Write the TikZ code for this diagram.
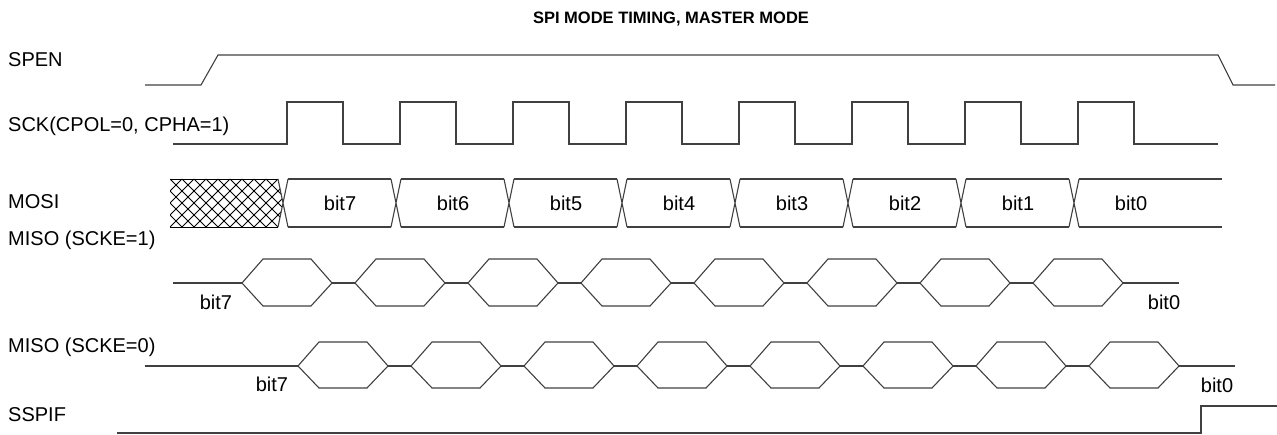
\documentclass[tikz,border=0pt]{standalone}
\usepackage{fontspec}
\setmainfont{Liberation Sans}

\begin{document}
\begin{tikzpicture}[
      x=1pt, y=-1pt,
      font=\fontsize{20}{23}\selectfont,
      wave/.style={draw=black!75, line width=1.1pt, line join=miter},
      hatch/.style={draw=black, line width=0.9pt},
      lbl/.style={anchor=west, inner sep=0pt},
      bitlbl/.style={inner sep=0pt}
    ]
    \useasboundingbox (0,0) rectangle (1277,435);

    \node[font=\fontsize{16.5}{20}\selectfont\bfseries] (title) at (671,19)
      {SPI MODE TIMING, MASTER MODE};

    \node[lbl] (spen)  at (8,60)  {SPEN};
    \node[lbl] (sck)   at (8,126) {SCK(CPOL=0, CPHA=1)};
    \node[lbl] (mosi)  at (8,202) {MOSI};
    \node[lbl] (misoa) at (8,240) {MISO (SCKE=1)};
    \node[lbl] (misob) at (8,347) {MISO (SCKE=0)};
    \node[lbl] (sspif) at (8,415) {SSPIF};

    % SPEN
    \draw[wave] (145,85) -- (201,85) -- (218,55) -- (1218,55) -- (1233,85)
      -- (1275,85);

    % SCK, eight clock pulses
    \draw[wave] (173,144)
      \foreach \k in {0,...,7} {
        -- ({287+113*\k},144) -- ++(0,-42) -- ++(56,0) -- ++(0,42)}
      -- (1218,144);

    % MOSI: undefined data before bit7
    \begin{scope}
      \clip (170,179) -- (278,179) -- (283,203) -- (278,227) -- (170,227)
        -- cycle;
      \foreach \k in {-5,...,10}
        \draw[hatch] ({170+12*\k},179) -- ++(48,48)
                     ({170+12*\k},227) -- ++(48,-48);
    \end{scope}
    \draw[hatch] (170,179) -- (278,179) (170,227) -- (278,227);

    \foreach \k in {0,...,7}
      \draw[wave] ({278+113*\k},179) -- ({288+113*\k},227)
                  ({278+113*\k},227) -- ({288+113*\k},179);
    \foreach \k in {0,...,6}
      \draw[wave] ({288+113*\k},179) -- ({391+113*\k},179)
                  ({288+113*\k},227) -- ({391+113*\k},227);
    \draw[wave] (1079,179) -- (1222,179) (1079,227) -- (1222,227);

    \foreach \b [count=\i from 0] in {7,6,...,0}
      \node[bitlbl] (mosi\b) at ({340+113*\i},203) {bit\b};

    % MISO, SCKE=1
    \draw[wave] (173,283) -- (242,283) (1123,283) -- (1179,283);
    \foreach \k in {0,...,7}
      \draw[wave] ({242+113*\k},283) -- ++(21,-24) -- ++(48,0) -- ++(21,24)
        -- ++(-21,23) -- ++(-48,0) -- cycle;
    \foreach \k in {0,...,6}
      \draw[wave] ({332+113*\k},283) -- ++(23,0);
    \node[bitlbl] (misoafirst) at (216,302) {bit7};
    \node[bitlbl] (misoalast) at (1164,302) {bit0};

    % MISO, SCKE=0
    \draw[wave] (145,366) -- (298,366) (1179,366) -- (1235,366);
    \foreach \k in {0,...,7}
      \draw[wave] ({298+113*\k},366) -- ++(21,-24) -- ++(48,0) -- ++(21,24)
        -- ++(-21,22) -- ++(-48,0) -- cycle;
    \foreach \k in {0,...,6}
      \draw[wave] ({388+113*\k},366) -- ++(23,0);
    \node[bitlbl] (misobfirst) at (272,384) {bit7};
    \node[bitlbl] (misoblast) at (1217,385) {bit0};

    % SSPIF
    \draw[wave, line width=1.6pt] (117,433) -- (1201,433) -- (1201,406)
      -- (1277,406);
  \end{tikzpicture}
\end{document}
